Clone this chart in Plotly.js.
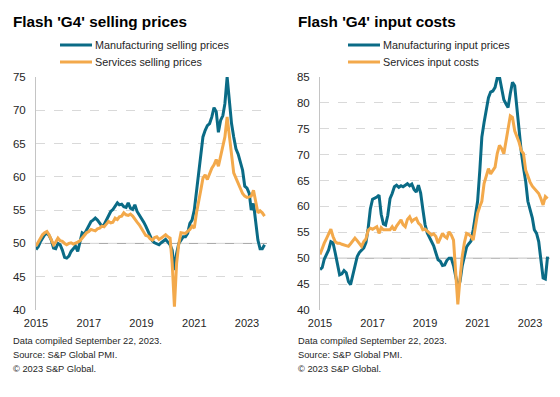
<!DOCTYPE html>
<html><head><meta charset="utf-8">
<script src="https://cdn.plot.ly/plotly-3.0.1.min.js"></script>
<style>html,body{margin:0;padding:0;background:#fff}#chart{width:560px;height:397px}</style>
</head><body><div id="chart"></div>
<script>
// Monthly observations, Jan 2015 - Sep 2023
const startYear = 2015, nMonths = 105;
const months = [];
for (let i = 0; i < nMonths; i++) {
  const y = startYear + Math.floor(i / 12), m = i % 12 + 1;
  months.push(y + '-' + String(m).padStart(2, '0') + '-01');
}

const mfgSelling = [
  49.1, 49.5, 50.2, 50.8, 51.3, 51.6, 51.2, 50.5, 49.3, 49.2, 50.0, 49.8,
  49.0, 47.9, 47.8, 48.1, 48.8, 49.2, 49.6, 48.8, 50.5, 51.6, 51.4, 52.0,
  52.8, 53.3, 53.5, 53.8, 53.5, 53.1, 52.6, 52.8, 53.5, 54.1, 54.8, 55.1,
  55.6, 56.1, 55.8, 55.9, 55.5, 55.4, 56.1, 55.3, 55.1, 55.8, 54.8, 54.3,
  53.9, 53.2, 52.6, 51.8, 51.2, 50.4, 50.1, 50.0, 49.8, 50.1, 50.3, 50.6,
  50.2, 49.8, 49.0, 46.0, 48.5, 50.0, 50.5, 51.0, 51.0, 51.5, 53.0, 53.5,
  55.0, 58.0, 61.0, 64.0, 66.0, 67.0, 67.7, 68.0, 69.0, 70.4, 69.8, 66.7,
  68.5, 69.2, 71.0, 75.0, 71.0, 68.0, 66.0, 64.2, 63.4, 62.0, 61.0, 58.6,
  58.3, 57.5, 55.0, 56.0, 53.1, 50.5, 49.2, 49.2, 49.8
];
const svcSelling = [
  49.6, 50.2, 50.8, 51.3, 51.6, 51.8, 51.3, 50.5, 49.8, 50.2, 50.8, 50.4,
  50.3, 50.0, 49.8, 50.0, 50.1, 49.9, 50.0, 50.2, 50.4, 50.8, 51.3, 51.6,
  51.8, 52.1, 52.0, 51.9, 52.2, 52.3, 52.6, 52.5, 52.9, 53.3, 53.1, 53.2,
  53.8, 53.6, 54.0, 54.1, 54.6, 54.3, 54.2, 54.4, 54.1, 53.6, 53.2, 52.8,
  52.2, 51.6, 51.2, 51.1, 50.7, 50.5, 50.9, 51.0, 50.6, 50.8, 51.1, 51.3,
  51.0, 50.8, 47.0, 40.5, 47.0, 50.0, 51.6, 51.6, 51.5, 51.8, 52.1, 52.6,
  52.3, 54.6, 56.0, 58.0, 59.8, 60.3, 59.6, 60.5, 61.3, 61.8, 62.6, 61.6,
  63.0, 64.5, 66.0, 69.0, 66.0, 63.0, 60.6, 59.8, 59.0, 58.1, 57.5, 57.1,
  56.9, 57.0, 57.1, 58.0, 56.1, 54.6, 54.9, 54.6, 54.1
];
const mfgInput = [
  47.8, 48.2, 49.8, 50.8, 51.6, 53.2, 53.0, 51.0, 49.0, 46.8, 47.0, 47.6,
  47.2, 45.5, 44.9, 46.8, 49.0, 50.3, 51.1, 51.5, 52.0, 53.0, 55.8, 59.5,
  61.4, 61.6, 61.8, 62.2, 58.5, 56.6, 56.4, 58.3, 61.5, 62.5, 63.8, 64.1,
  63.7, 64.0, 63.8, 64.1, 64.4, 64.0, 64.3, 63.3, 62.8, 64.1, 62.6, 59.5,
  56.5, 54.9, 54.2, 53.4, 52.4, 51.0, 49.7, 49.4, 48.6, 48.7, 49.6, 50.0,
  50.0, 48.6, 46.5, 44.5, 45.5, 48.5, 50.3, 52.2, 52.8, 53.3, 55.5, 58.5,
  61.0, 67.0, 73.4, 76.2, 78.5, 81.0, 82.1, 82.3, 83.0, 84.8, 85.0, 82.5,
  80.6, 79.8, 79.1, 81.8, 84.0, 83.3, 79.0, 74.5, 70.5, 67.5, 64.8, 61.0,
  59.6, 57.8, 55.5, 54.8, 53.2, 49.3, 46.2, 46.0, 50.3
];
const svcInput = [
  50.7, 52.0, 52.9, 53.8, 54.6, 55.6, 54.2, 53.2, 52.9, 52.9, 52.7, 52.6,
  52.4, 52.3, 52.8, 53.5, 53.9, 53.4, 52.8, 52.3, 53.2, 53.7, 55.4, 55.8,
  55.6, 55.9, 56.1, 54.8, 55.9, 55.5, 55.5, 55.6, 55.5, 56.1, 55.4, 56.2,
  56.7, 57.4, 56.5, 56.1, 57.5, 58.0, 57.1, 57.5, 57.7, 56.8, 56.4, 55.5,
  55.6, 55.2, 54.8, 54.5, 54.7, 54.2, 52.9, 54.0, 54.8, 54.2, 53.9, 55.1,
  54.5, 53.5, 48.0, 41.1, 46.0, 50.3, 53.0, 54.8, 54.6, 54.2, 53.5, 56.5,
  58.7, 60.0, 61.0, 64.4, 65.7, 67.3, 66.3, 67.0, 67.6, 70.2, 71.8, 71.2,
  70.2, 72.7, 75.3, 77.5, 77.2, 74.6, 73.5, 72.4, 70.8, 70.2, 67.0, 65.7,
  64.7, 63.9, 63.5, 62.9, 62.5, 61.5, 60.3, 61.9, 61.5
];

const xTickVals = ['2015-01-01', '2017-01-01', '2019-01-01', '2021-01-01', '2023-01-01'];
const xTickText = ['2015', '2017', '2019', '2021', '2023'];
const seriesNames = ['Manufacturing selling prices', 'Services selling prices', 'Manufacturing input prices', 'Services input costs'];
const titles = ["Flash 'G4' selling prices", "Flash 'G4' input costs"];
const footerLines = ['Data compiled September 22, 2023.', 'Source: S&P Global PMI.', '© 2023 S&P Global.'];

const TEAL = '#0a6b86', ORANGE = '#f3a94b';
const FONT = 'Liberation Sans, Arial, sans-serif';
const W = 560, PT = 77, PB = 310;
const py = p => (PB - p) / (PB - PT);

function line(x, y, name, color, xa, ya) {
  return {x: x, y: y, name: name, type: 'scatter', mode: 'lines', xaxis: xa, yaxis: ya,
    line: {color: color, width: 3}, hoverinfo: 'skip', showlegend: false};
}

const data = [
  line(months, mfgSelling, seriesNames[0], TEAL, 'x', 'y'),
  line(months, svcSelling, seriesNames[1], ORANGE, 'x', 'y'),
  line(months, mfgInput, seriesNames[2], TEAL, 'x2', 'y2'),
  line(months, svcInput, seriesNames[3], ORANGE, 'x2', 'y2')
];

function xax(dom, anchor) {
  return {domain: dom, anchor: anchor, type: 'date', range: ['2015-01-01', '2023-10-05'],
    tickvals: xTickVals, ticktext: xTickText, showgrid: false, showline: false, zeroline: false,
    ticks: 'outside', ticklen: 3, tickcolor: 'rgba(0,0,0,0)',
    tickfont: {family: FONT, size: 11, color: '#262626'}};
}
function yax(range, anchor) {
  return {domain: [0, 1], anchor: anchor, range: range, dtick: 5, showgrid: true,
    gridcolor: '#d9d9d9', griddash: 'dash', gridwidth: 1, showline: true, linecolor: '#c4c4c4',
    linewidth: 1, zeroline: false, ticks: 'outside', ticklen: 7, tickcolor: 'rgba(0,0,0,0)',
    tickfont: {family: FONT, size: 11.5, color: '#262626'}};
}

const shapes = [
  {type: 'line', xref: 'x domain', x0: 0, x1: 1, yref: 'y', y0: 50, y1: 50, layer: 'below', line: {color: '#a6a6a6', width: 1}},
  {type: 'line', xref: 'x2 domain', x0: 0, x1: 1, yref: 'y2', y0: 50, y1: 50, layer: 'below', line: {color: '#a6a6a6', width: 1}}
];
const annotations = [];
function addText(text, x, y, size, color, bold) {
  annotations.push({text: bold ? '<b>' + text + '</b>' : text, xref: 'paper', yref: 'paper', x: x / W, y: py(y),
    xanchor: 'left', yanchor: 'middle', align: 'left', showarrow: false,
    font: {family: FONT, size: size, color: color}});
}
// legends (manual, to match the tight row spacing)
const legendDefs = [
  {x: 60, names: [seriesNames[0], seriesNames[1]]},
  {x: 348, names: [seriesNames[2], seriesNames[3]]}
];
const legendRows = [45, 62], legendColors = [TEAL, ORANGE];
legendDefs.forEach(d => {
  d.names.forEach((n, i) => {
    shapes.push({type: 'line', xref: 'paper', yref: 'paper', x0: d.x / W, x1: (d.x + 32) / W,
      y0: py(legendRows[i]), y1: py(legendRows[i]), line: {color: legendColors[i], width: 3}});
    addText(n, d.x + 33, legendRows[i], 10.8, '#262626', false);
  });
});
addText(titles[0], 11, 21, 15.3, '#000', true);
addText(titles[1], 296, 21, 15.3, '#000', true);
const footY = [341, 355, 369];
footerLines.forEach((t, i) => {
  addText(t, 11, footY[i], 9.3, '#262626', false);
  addText(t, 296, footY[i], 9.3, '#262626', false);
});

const layout = {
  width: 560, height: 397,
  margin: {l: 0, r: 0, t: PT, b: 397 - PB},
  paper_bgcolor: '#fff', plot_bgcolor: '#fff',
  font: {family: FONT},
  xaxis: xax([36 / W, 267 / W], 'y'),
  yaxis: yax([40, 75], 'x'),
  xaxis2: xax([320 / W, 550 / W], 'y2'),
  yaxis2: yax([40, 85], 'x2'),
  showlegend: false,
  shapes: shapes,
  annotations: annotations
};

Plotly.newPlot('chart', data, layout, {staticPlot: true, displayModeBar: false});
</script>
</body></html>
